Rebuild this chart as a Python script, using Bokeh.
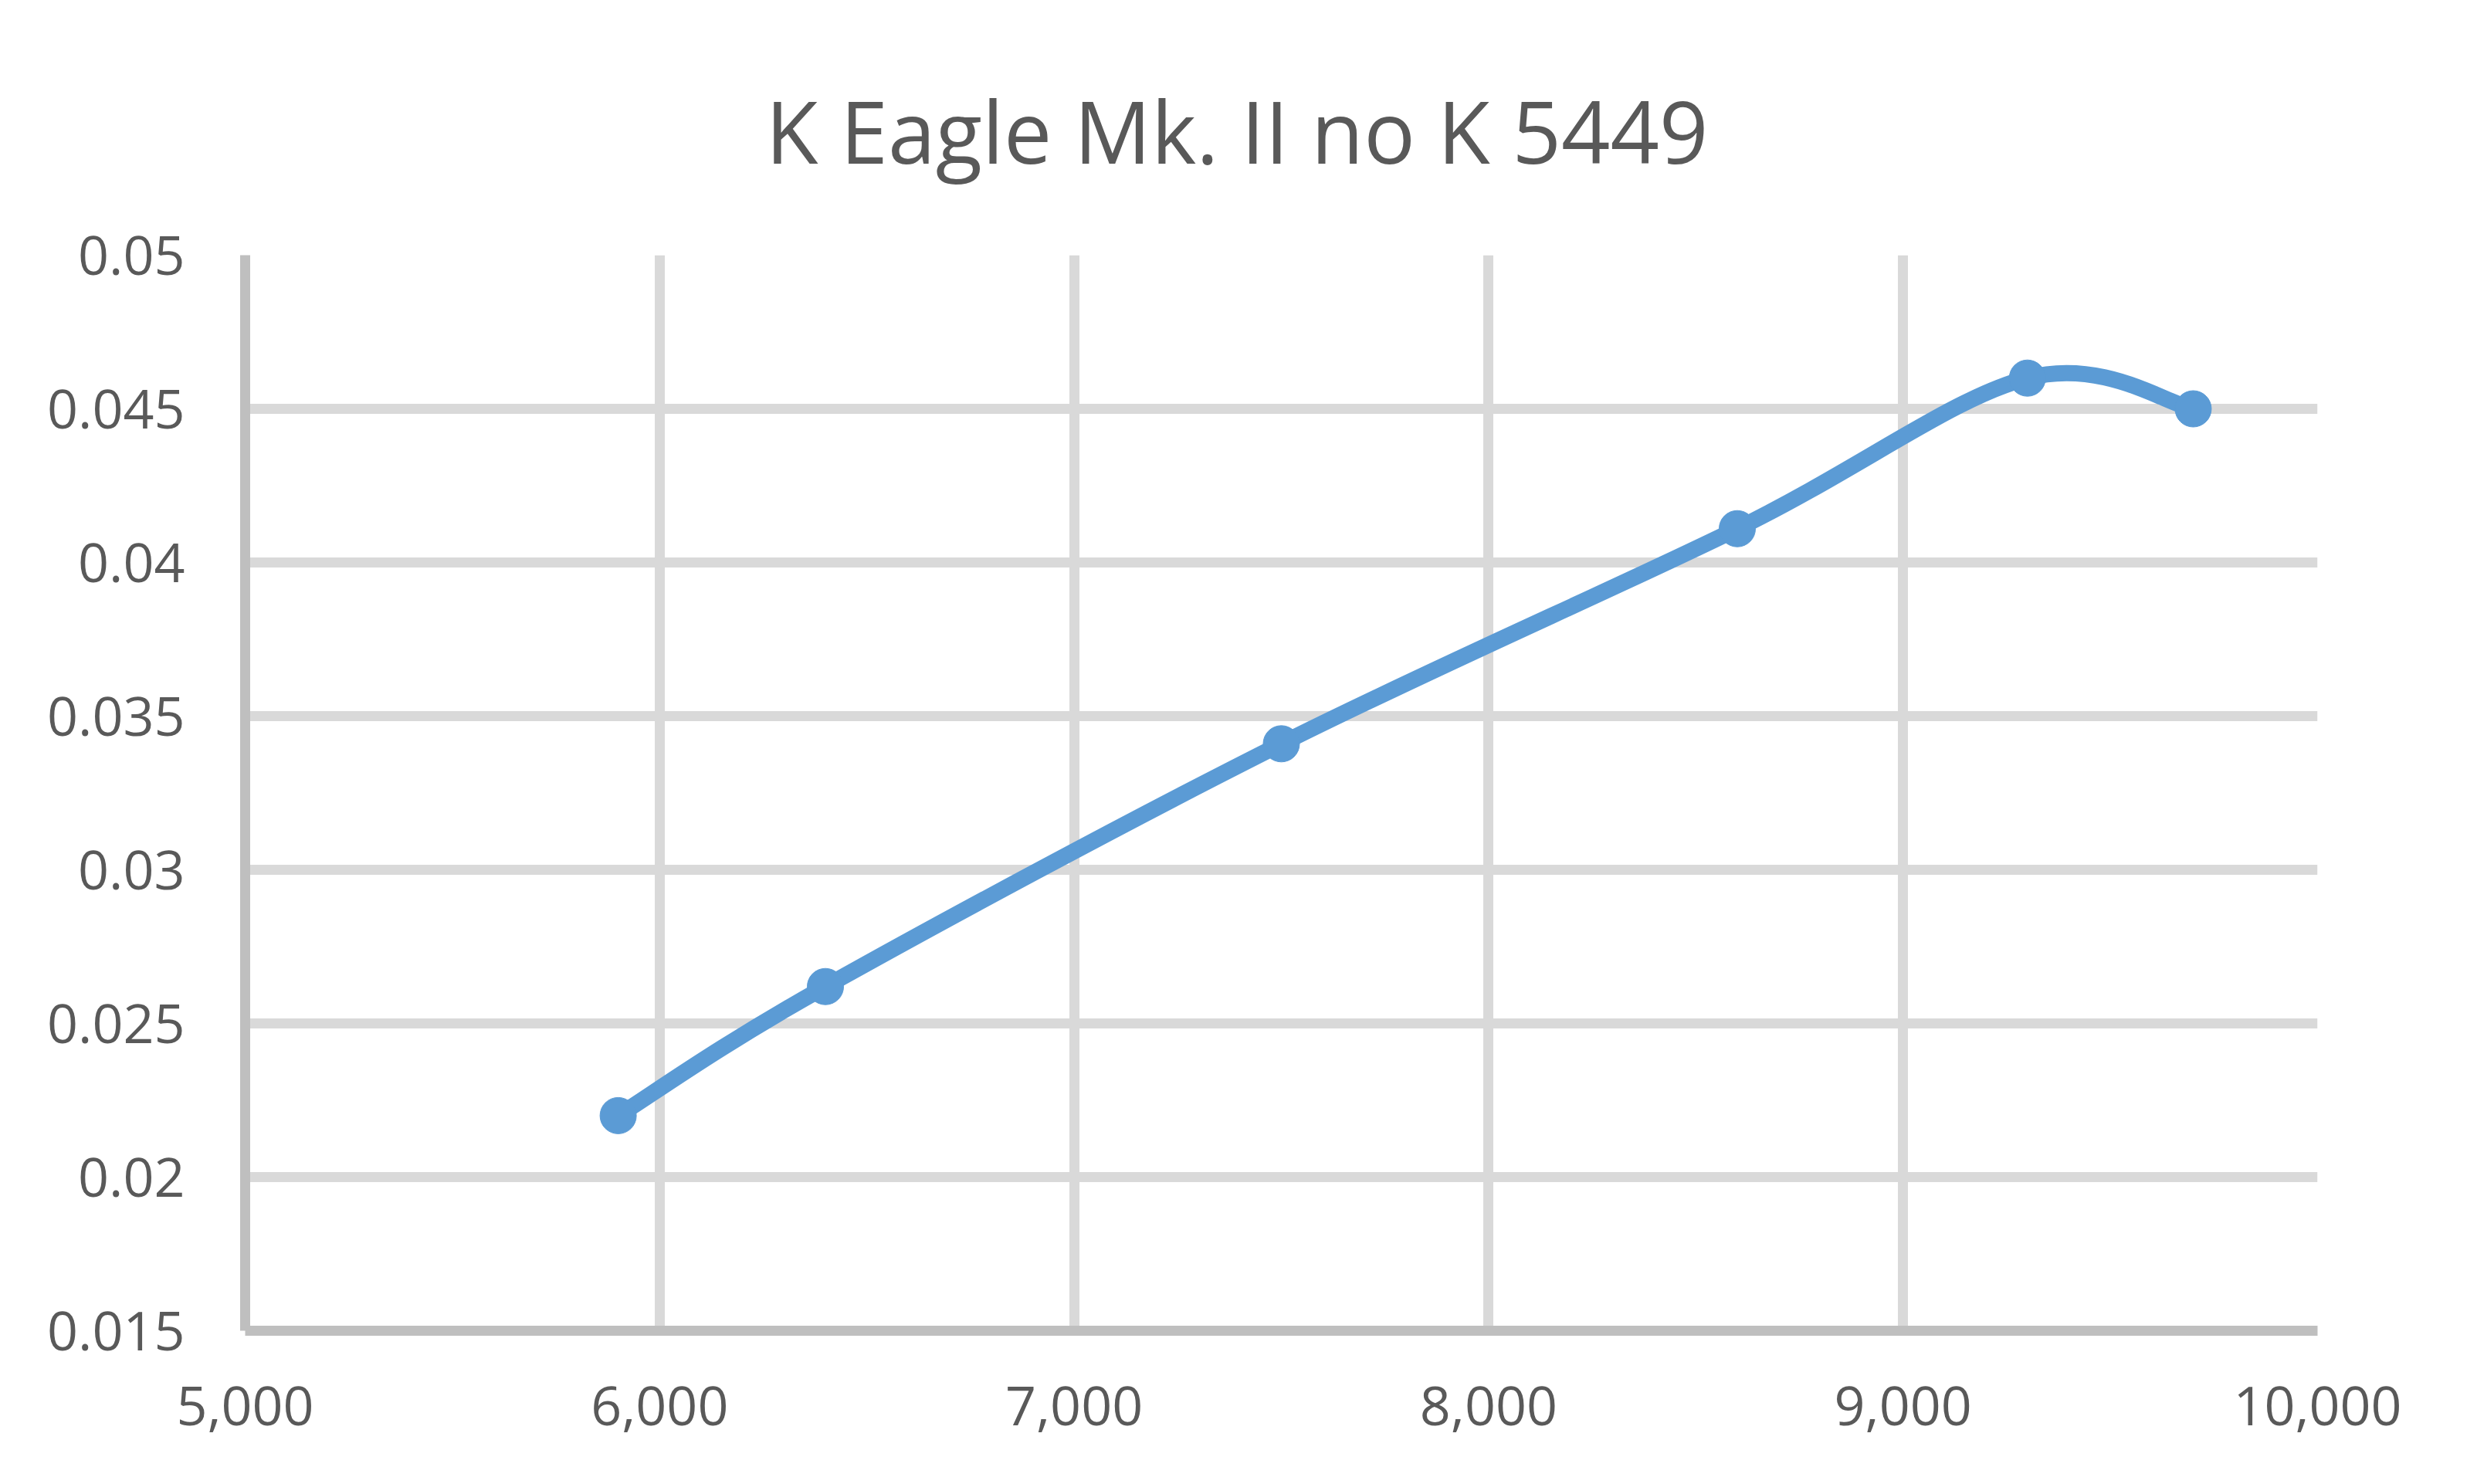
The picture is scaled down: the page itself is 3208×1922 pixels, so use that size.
from bokeh.plotting import figure
from bokeh.models import Range1d, FixedTicker, NumeralTickFormatter, Title
from bokeh.embed import file_html
from bokeh.resources import INLINE

# ---- data ----
rpm = [5900, 6400, 7500, 8600, 9300, 9700]
value = [0.022, 0.0262, 0.0341, 0.0411, 0.046, 0.045]

x_ticks = [5000, 6000, 7000, 8000, 9000, 10000]
y_ticks = [0.015, 0.02, 0.025, 0.03, 0.035, 0.04, 0.045, 0.05]
y_tick_labels = ["0.015", "0.02", "0.025", "0.03", "0.035", "0.04", "0.045", "0.05"]

title_text = "K Eagle Mk. II no K 5449"

# ---- styling ----
FONT = "Open Sans"
TEXT = "#595959"
GRID = "#d9d9d9"
AXIS = "#bfbfbf"
BLUE = "#5b9bd5"

p = figure(
    width=3192, height=1906,
    x_range=Range1d(x_ticks[0], x_ticks[-1]),
    y_range=Range1d(y_ticks[0], y_ticks[-1]),
    output_backend="svg", toolbar_location=None,
    min_border_left=317, min_border_right=191,
    min_border_top=330, min_border_bottom=183,
)
p.title = Title(text=title_text, align="left", offset=674,
                text_font=FONT, text_font_size="111px",
                text_color=TEXT, text_font_style="normal", standoff=172)
p.outline_line_color = None
p.background_fill_color = "white"
p.border_fill_color = "white"

# axes
p.xaxis.ticker = FixedTicker(ticks=x_ticks)
p.xaxis.formatter = NumeralTickFormatter(format="0,0")
p.yaxis.ticker = FixedTicker(ticks=y_ticks)
p.yaxis.major_label_overrides = {t: s for t, s in zip(y_ticks, y_tick_labels)}
for ax in (p.xaxis, p.yaxis):
    ax.axis_line_color = AXIS
    ax.axis_line_width = 13
    ax.major_tick_line_color = None
    ax.minor_tick_line_color = None
    ax.major_tick_out = 0
    ax.major_tick_in = 0
    ax.major_label_text_font = FONT
    ax.major_label_text_font_size = "70px"
    ax.major_label_text_color = TEXT
p.yaxis.major_label_standoff = 78
p.xaxis.major_label_standoff = 72

p.xgrid.ticker = FixedTicker(ticks=x_ticks)
p.ygrid.ticker = FixedTicker(ticks=y_ticks)
for g in (p.xgrid, p.ygrid):
    g.grid_line_color = GRID
    g.grid_line_width = 13

# smoothed line (Excel-style Catmull-Rom Bezier through the data points)
n = len(rpm)
x0, y0, x1, y1, cx0, cy0, cx1, cy1 = [], [], [], [], [], [], [], []
for i in range(n - 1):
    im1 = max(i - 1, 0)
    ip2 = min(i + 2, n - 1)
    x0.append(rpm[i]); y0.append(value[i])
    x1.append(rpm[i + 1]); y1.append(value[i + 1])
    cx0.append(rpm[i] + (rpm[i + 1] - rpm[im1]) / 6)
    cy0.append(value[i] + (value[i + 1] - value[im1]) / 6)
    cx1.append(rpm[i + 1] - (rpm[ip2] - rpm[i]) / 6)
    cy1.append(value[i + 1] - (value[ip2] - value[i]) / 6)
p.bezier(x0=x0, y0=y0, x1=x1, y1=y1, cx0=cx0, cy0=cy0, cx1=cx1, cy1=cy1,
         line_color=BLUE, line_width=21, line_cap="round")
p.scatter(rpm, value, marker="circle", size=47, fill_color=BLUE, line_color=BLUE)

open("out.html", "w").write(file_html(p, INLINE))
